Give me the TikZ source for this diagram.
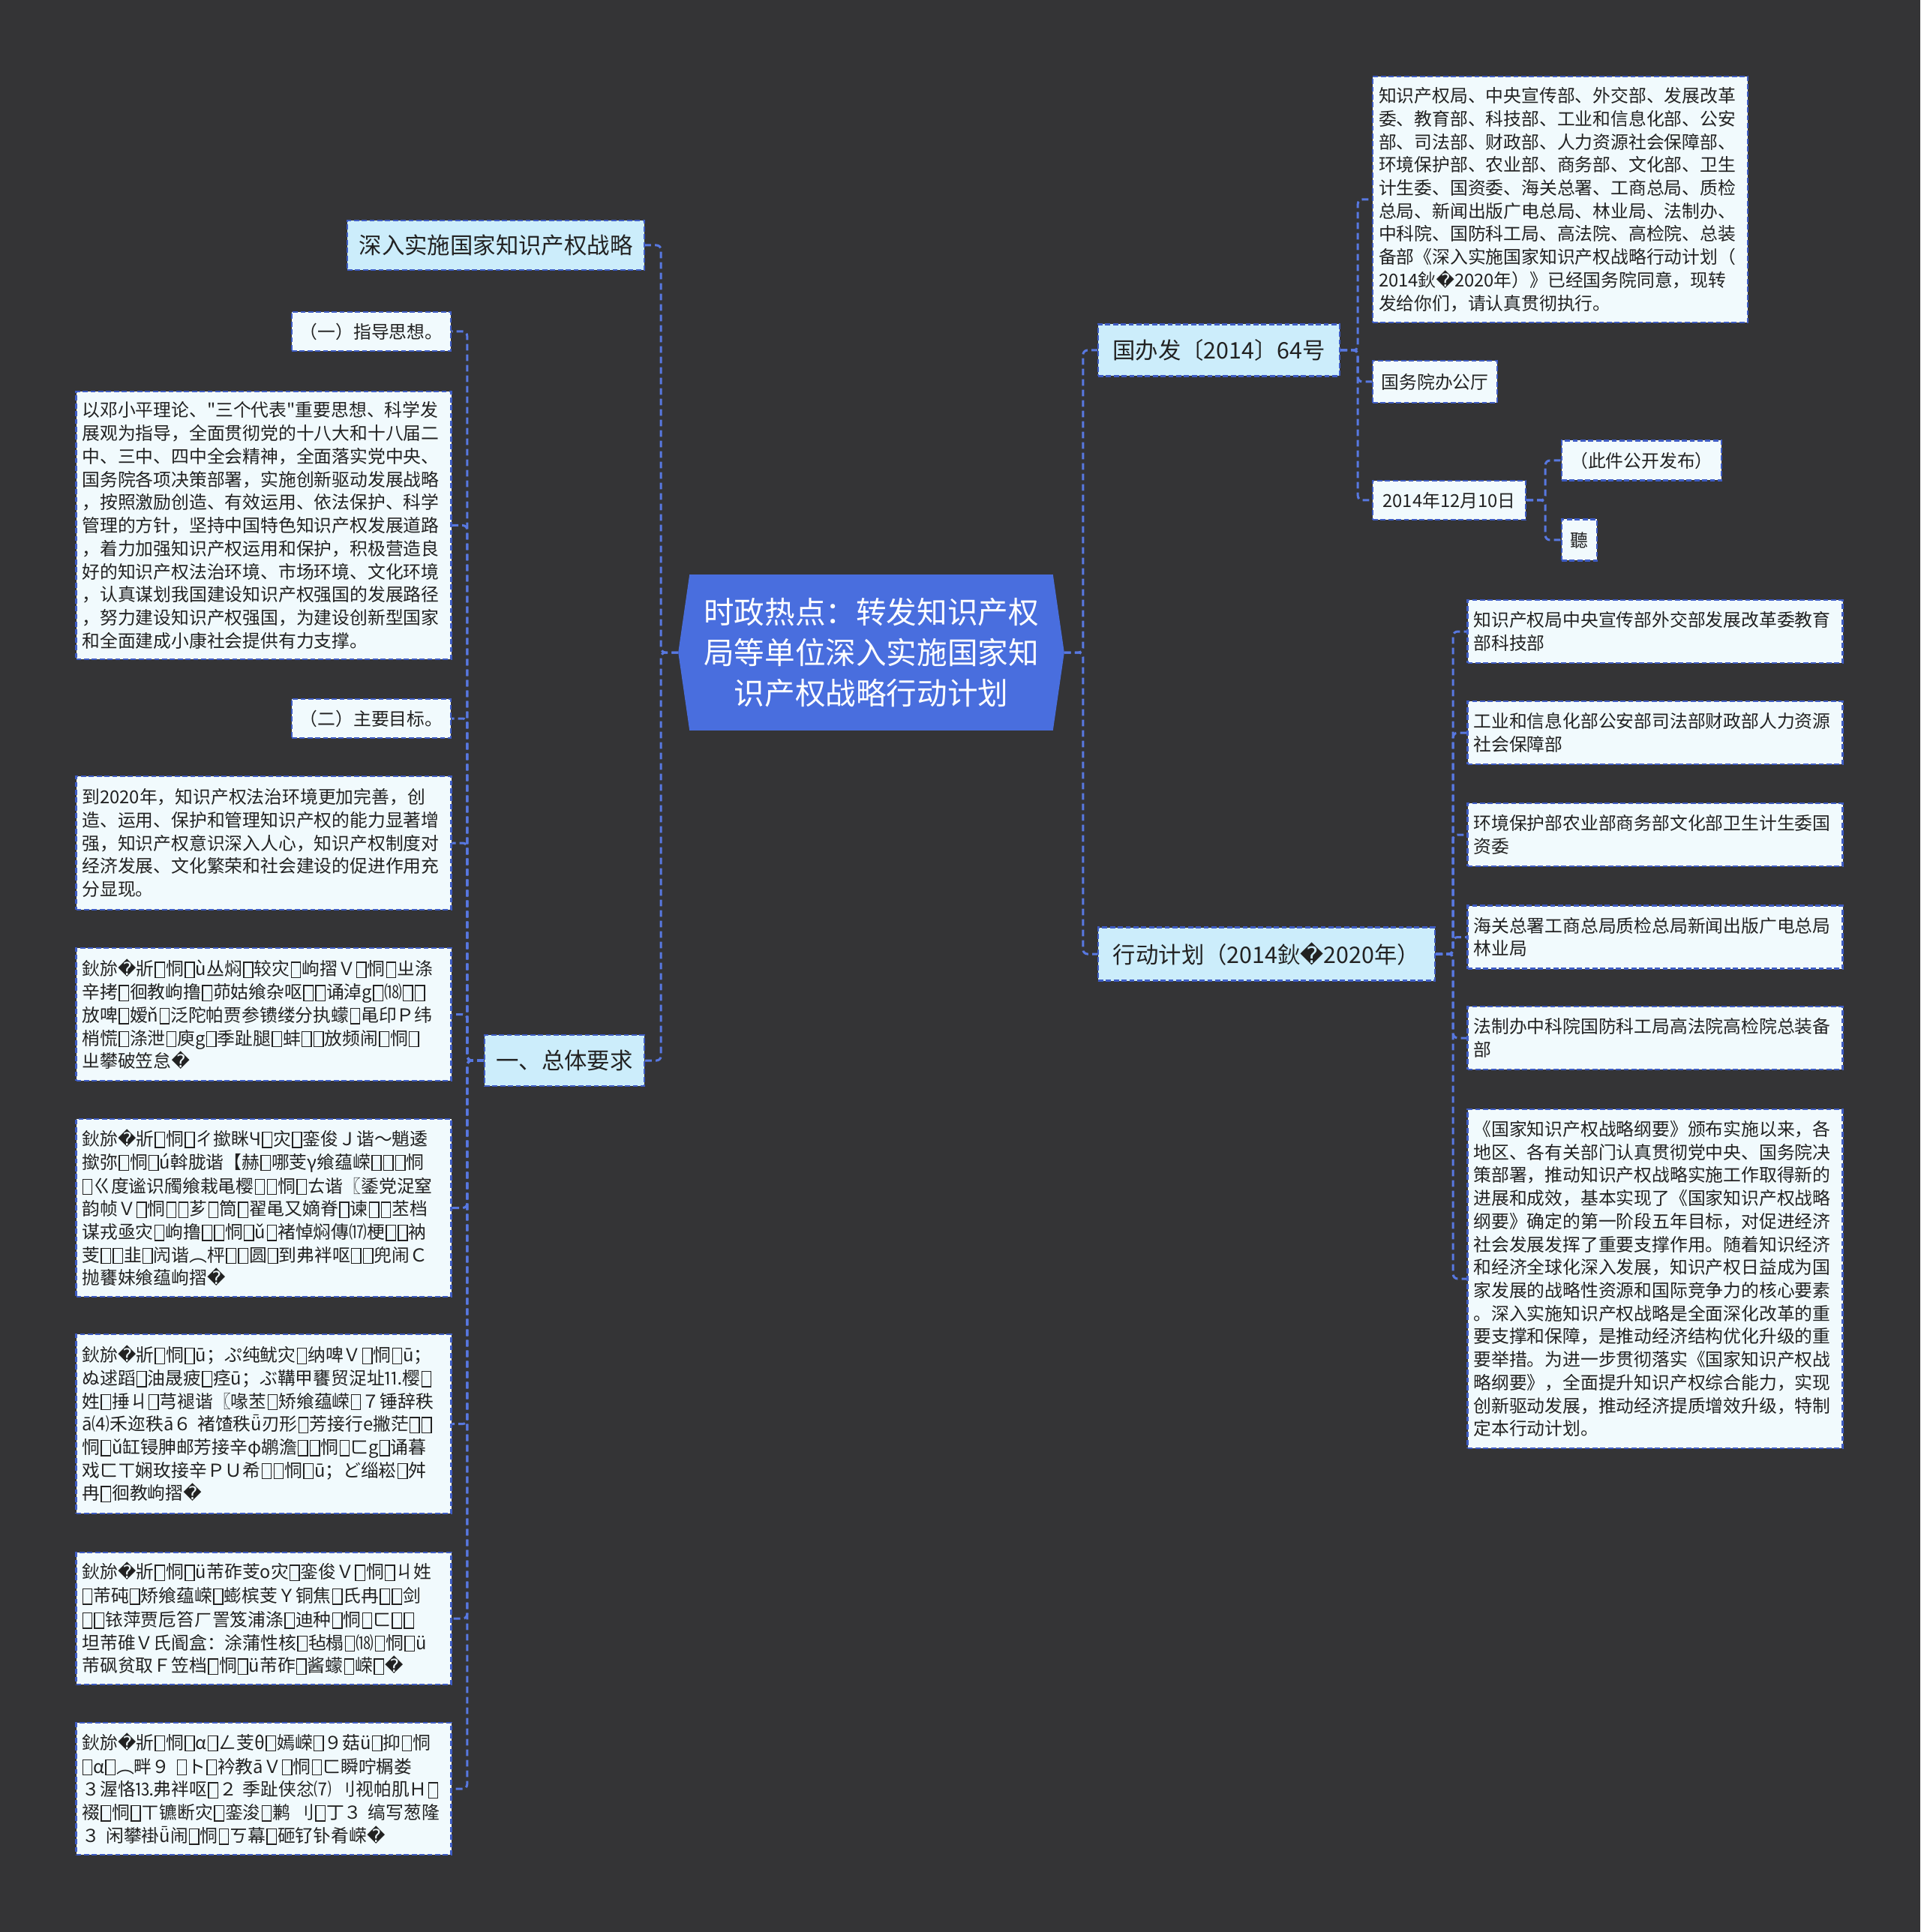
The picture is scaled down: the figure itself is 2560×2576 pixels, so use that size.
\documentclass[tikz,border=0pt]{standalone}
\usepackage{fontspec}
\setmainfont{Noto Sans CJK SC}
\newfontfamily\dejavu{DejaVu Sans}
\newfontfamily\rawcjk{Noto Sans CJK SC}[Ligatures=ResetAll]
\usetikzlibrary{backgrounds}
\definecolor{bgc}{RGB}{52,52,54}
\definecolor{rootc}{RGB}{73,110,222}
\definecolor{lvlc}{RGB}{204,237,251}
\definecolor{boxc}{RGB}{241,250,253}
\definecolor{bdc}{RGB}{62,92,196}
\definecolor{lnkc}{RGB}{88,120,225}
\definecolor{txc}{RGB}{34,34,34}
\newcommand\fsm{\fontsize{5.95pt}{7.68pt}\selectfont}
\newcommand\flv{\fontsize{7.6pt}{9pt}\selectfont}
\newcommand\frt{\fontsize{10.15pt}{13.5pt}\selectfont}
\newcommand\mjrep{{\dejavu �}}
\newcommand\mjq{{\rawcjk\char34}}
\newcommand\mjbox{\kern.05em\raisebox{-.08em}{\setlength\fboxsep{0pt}\setlength\fboxrule{.055em}\fbox{\rule{0pt}{.8em}\rule{.46em}{0pt}}}\kern.05em}
\begin{document}
\begin{tikzpicture}[x=0.25pt,y=-0.25pt,
  base/.style={draw=bdc, line width=0.6pt, dash pattern=on 1.7pt off 0.9pt, text=txc, inner xsep=2pt, inner ysep=0pt, anchor=center},
  tbox/.style={base, fill=boxc, align=left, font=\fsm},
  lbl/.style={base, fill=boxc, align=center, font=\fsm},
  lvl/.style={base, fill=lvlc, align=center, font=\flv},
  conn/.style={draw=lnkc, line width=0.75pt, dash pattern=on 2.2pt off 1.3pt, rounded corners=1.5pt},
  wide/.style={minimum width=125pt, text width=121pt}]
\useasboundingbox (0,0) rectangle (2560,2576);
\begin{scope}[on background layer]
\fill[bgc] (0,0) rectangle (2560,2576);
\end{scope}

% root
\node[anchor=center, minimum width=128.25pt, minimum height=51.5pt, align=center, text=white, font=\frt, inner sep=0pt] (root) at (1161.5,870)
 {时政热点：转发知识产权\\局等单位深入实施国家知\\识产权战略行动计划};
\begin{scope}[on background layer]
\fill[rootc] ([xshift=3.75pt]root.north west) -- ([xshift=-3.75pt]root.north east) -- (root.east) -- ([xshift=-3.75pt]root.south east) -- ([xshift=3.75pt]root.south west) -- (root.west) -- cycle;
\end{scope}

% left level 1
\node[lvl, minimum width=99pt, minimum height=16.5pt] (la) at (661,327) {深入实施国家知识产权战略};
\node[lvl, minimum width=53.25pt, minimum height=17pt] (lb) at (752.5,1414) {一、总体要求};

% left level 2
\node[lbl, minimum width=53pt, minimum height=13pt] (g1) at (495,442) {（一）指导思想。};
\node[tbox, wide, minimum height=89.25pt] (g2) at (351.5,700.5) {以邓小平理论、\mjq 三个代表\mjq 重要思想、科学发\\展观为指导，全面贯彻党的十八大和十八届二\\中、三中、四中全会精神，全面落实党中央、\\国务院各项决策部署，实施创新驱动发展战略\\，按照激励创造、有效运用、依法保护、科学\\管理的方针，坚持中国特色知识产权发展道路\\，着力加强知识产权运用和保护，积极营造良\\好的知识产权法治环境、市场环境、文化环境\\，认真谋划我国建设知识产权强国的发展路径\\，努力建设知识产权强国，为建设创新型国家\\和全面建成小康社会提供有力支撑。};
\node[lbl, minimum width=53pt, minimum height=13pt] (g3) at (495,958) {（二）主要目标。};
\node[tbox, wide, minimum height=44.5pt] (g4) at (351.5,1124) {到2020年，知识产权法治环境更加完善，创\\造、运用、保护和管理知识产权的能力显著增\\强，知识产权意识深入人心，知识产权制度对\\经济发展、文化繁荣和社会建设的促进作用充\\分显现。};
\node[tbox, wide, minimum height=44.25pt] (g5) at (351.5,1352.5) {鈥旀\mjrep 斨\mjbox 恫\mjbox ù丛焖\mjbox 较灾\mjbox 岣摺Ｖ\mjbox 恫\mjbox ㄓ涤\\辛拷\mjbox 徊教岣撸\mjbox 茆姑飨杂呕\mjbox\mjbox 诵淖g\mjbox ⒅\mjbox\mjbox\\放啤\mjbox 嫒ň\mjbox 泛陀帕贾参镄缕分执蠓\mjbox 黾印Ｐ纬\\梢慌\mjbox 涤泄\mjbox 庾g\mjbox 季趾腿\mjbox 蚌\mjbox\mjbox 放频闹\mjbox 恫\mjbox\\ㄓ攀破笠怠\mjrep};
\node[tbox, wide, minimum height=59.25pt] (g6) at (351.5,1610.5) {鈥旀\mjrep 斨\mjbox 恫\mjbox ㄔ撳眯Ч\mjbox 灾\mjbox 銮俊Ｊ谐～魈逶\\撳弥\mjbox 恫\mjbox ú斡胧谐【赫\mjbox 哪芰γ飨蕴嵘\mjbox\mjbox\mjbox 恫\\\mjbox ㄍ度谧识斶飨栽黾樱\mjbox\mjbox 恫\mjbox ㄊ谐〖鋈党浞窒\\韵帧Ｖ\mjbox 恫\mjbox\mjbox 芗\mjbox 筒\mjbox 翟黾又嫡脊\mjbox 谏\mjbox\mjbox 苤档\\谋戎亟灾\mjbox 岣撸\mjbox\mjbox 恫\mjbox ǔ\mjbox 褚悼焖傳⒄梗\mjbox\mjbox 衲\\芰\mjbox\mjbox 韭\mjbox 闶谐︵枰\mjbox\mjbox 圆\mjbox 到弗袢呕\mjbox\mjbox 兜闹Ｃ\\抛饔妹飨蕴岣摺\mjrep};
\node[tbox, wide, minimum height=59.75pt] (g7) at (351.5,1898.5) {鈥旀\mjrep 斨\mjbox 恫\mjbox ū；ぷ纯鱿灾\mjbox 纳啤Ｖ\mjbox 恫\mjbox ū；\\ぬ逑蹈\mjbox 油晟疲\mjbox 痉ū；ぶ鞲甲饔贸浞址⒒樱\mjbox\\姓\mjbox 捶ㄐ\mjbox 芎褪谐〖喙苤\mjbox 矫飨蕴嵘\mjbox ７锤辞秩\\ā⑷禾迩秩ā６ 褚馇秩ǖ刃形\mjbox 芳接行e撇茫\mjbox\mjbox\\恫\mjbox ǔ缸锓胂邮芳接辛φ鹕澹\mjbox\mjbox 恫\mjbox ㄈg\mjbox 诵暮\\戏ㄈㄒ娴玫接辛ＰＵ希\mjbox\mjbox 恫\mjbox ū；ど缁崧\mjbox 舛\\冉\mjbox 徊教岣摺\mjrep};
\node[tbox, wide, minimum height=44pt] (g8) at (351.5,2158) {鈥旀\mjrep 斨\mjbox 恫\mjbox ü芾砟芰ο灾\mjbox 銮俊Ｖ\mjbox 恫\mjbox ㄐ姓\\\mjbox 芾砘\mjbox 矫飨蕴嵘\mjbox 蟛槟芰Ｙ铜焦\mjbox 氏冉\mjbox\mjbox 剑\\\mjbox\mjbox 铱萍贾卮笞ㄏ詈笈浦涤\mjbox 迪种\mjbox 恫\mjbox ㄈ\mjbox\mjbox\\坦芾碓Ｖ氏阍盒：涂蒲性核\mjbox 毡榻\mjbox ⒅\mjbox 恫\mjbox ü\\芾砜贫取Ｆ笠档\mjbox 恫\mjbox ü芾砟\mjbox 酱蠓\mjbox 嵘\mjbox\mjrep};
\node[tbox, wide, minimum height=44pt] (g9) at (351.5,2385) {鈥旀\mjrep 斨\mjbox 恫\mjbox α\mjbox ㄥ芰θ\mjbox 嫣嵘\mjbox ９菇ü\mjbox 抑\mjbox 恫\\\mjbox α\mjbox ︵畔９ \mjbox ト\mjbox 衿教āＶ\mjbox 恫\mjbox ㄈ瞬咛榍娄\\３渥恪⒔弗袢呕\mjbox ２ 季趾侠忿⑺ 刂视帕肌Ｈ\mjbox\\裰\mjbox 恫\mjbox ㄒ镳断灾\mjbox 銮浚\mjbox 鹣 刂\mjbox 丁３ 缟写葱隆\\３ 闲攀褂ǖ闹\mjbox 恫\mjbox ㄎ幕\mjbox 砸钌钋肴嵘\mjrep};

% right level 1
\node[lvl, minimum width=80.5pt, minimum height=17.25pt] (ra) at (1625,467) {国办发〔2014〕64号};
\node[lvl, minimum width=112.25pt, minimum height=17.75pt] (rb) at (1688.5,1272) {行动计划（2014鈥\mjrep 2020年）};

% right children of ra
\node[tbox, wide, minimum height=82pt] (a1) at (2080,266) {知识产权局、中央宣传部、外交部、发展改革\\委、教育部、科技部、工业和信息化部、公安\\部、司法部、财政部、人力资源社会保障部、\\环境保护部、农业部、商务部、文化部、卫生\\计生委、国资委、海关总署、工商总局、质检\\总局、新闻出版广电总局、林业局、法制办、\\中科院、国防科工局、高法院、高检院、总装\\备部《深入实施国家知识产权战略行动计划（\\2014鈥\mjrep 2020年）》已经国务院同意，现转\\发给你们，请认真贯彻执行。};
\node[lbl, minimum width=41.5pt, minimum height=14pt] (a2) at (1913,509) {国务院办公厅};
\node[lbl, minimum width=51pt, minimum height=13pt] (a3) at (1932,667) {2014年12月10日};
\node[lbl, minimum width=53.25pt, minimum height=13.25pt] (a31) at (2188.5,614) {（此件公开发布）};
\node[lbl, minimum width=11.75pt, minimum height=13.75pt, inner xsep=0pt] (a32) at (2105.5,720) {聽};

% right children of rb
\node[tbox, wide, minimum height=21pt] (b1) at (2206.5,842) {知识产权局中央宣传部外交部发展改革委教育\\部科技部};
\node[tbox, wide, minimum height=21pt] (b2) at (2206.5,977) {工业和信息化部公安部司法部财政部人力资源\\社会保障部};
\node[tbox, wide, minimum height=21pt] (b3) at (2206.5,1113) {环境保护部农业部商务部文化部卫生计生委国\\资委};
\node[tbox, wide, minimum height=21pt] (b4) at (2206.5,1249.5) {海关总署工商总局质检总局新闻出版广电总局\\林业局};
\node[tbox, wide, minimum height=21pt] (b5) at (2206.5,1384) {法制办中科院国防科工局高法院高检院总装备\\部};
\node[tbox, wide, minimum height=113pt] (b6) at (2206.5,1705) {《国家知识产权战略纲要》颁布实施以来，各\\地区、各有关部门认真贯彻党中央、国务院决\\策部署，推动知识产权战略实施工作取得新的\\进展和成效，基本实现了《国家知识产权战略\\纲要》确定的第一阶段五年目标，对促进经济\\社会发展发挥了重要支撑作用。随着知识经济\\和经济全球化深入发展，知识产权日益成为国\\家发展的战略性资源和国际竞争力的核心要素\\。深入实施知识产权战略是全面深化改革的重\\要支撑和保障，是推动经济结构优化升级的重\\要举措。为进一步贯彻落实《国家知识产权战\\略纲要》，全面提升知识产权综合能力，实现\\创新驱动发展，推动经济提质增效升级，特制\\定本行动计划。};

% connectors
\foreach \c in {la,lb} \draw[conn] (root.west) -- ++(-23,0) |- (\c.east);
\foreach \c in {g1,g2,g3,g4,g5,g6,g7,g8,g9} \draw[conn] (lb.west) -- ++(-22,0) |- (\c.east);
\foreach \c in {ra,rb} \draw[conn] (root.east) -- ++(25,0) |- (\c.west);
\foreach \c in {a1,a2,a3} \draw[conn] (ra.east) -- ++(23,0) |- (\c.west);
\foreach \c in {a31,a32} \draw[conn] (a3.east) -- ++(25,0) |- (\c.west);
\foreach \c in {b1,b2,b3,b4,b5,b6} \draw[conn] (rb.east) -- ++(23,0) |- (\c.west);
\end{tikzpicture}
\end{document}
